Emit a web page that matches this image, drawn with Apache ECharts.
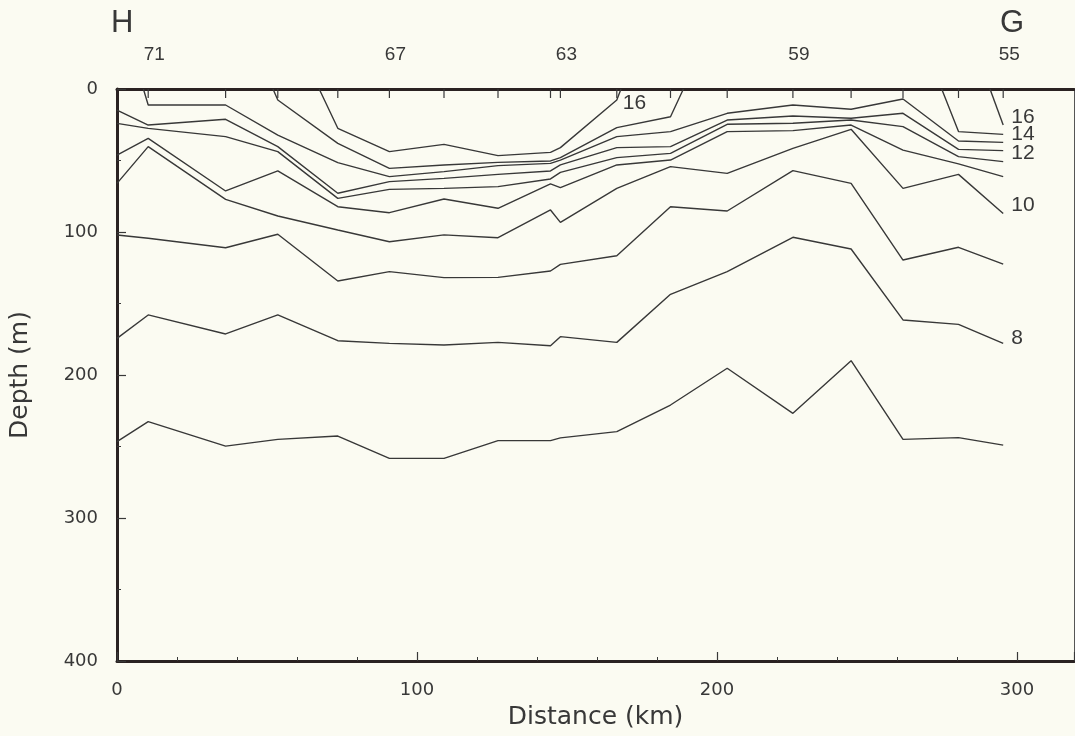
<!DOCTYPE html>
<html><head><meta charset="utf-8">
<script src="https://cdn.jsdelivr.net/npm/echarts@6/dist/echarts.min.js"></script>
<style>html,body{margin:0;padding:0;background:#fbfbf2;} #c{width:1075px;height:736px;}</style>
</head><body><div id="c"></div>
<script>
// distance (km) of the profile vertices: left edge + stations 71..55
const distKm = [0, 10.4, 36.2, 53.6, 73.6, 90.8, 109, 127, 144.5, 147.8, 166.6, 184.5, 203.4, 225.3, 244.7, 262, 280.5, 295.4];
const stationNo = [71, 70, 69, 68, 67, 66, 65, 64, 63, 62, 61, 60, 59, 58, 57, 56, 55];
const labeledStations = [71, 67, 63, 59, 55];
const depthTicks = [0, 100, 200, 300, 400];
const distTicks = [0, 100, 200, 300];

// isotherm depths (m) at distKm, null = absent
const t7  = [246.6, 232.6, 249.7, 245.0, 242.7, 258.3, 258.3, 245.9, 245.9, 244.0, 239.6, 221.0, 195.3, 226.8, 190.0, 245.0, 243.8, 249.0];
const t8  = [174.4, 158.0, 171.3, 158.0, 176.0, 177.9, 179.0, 177.2, 179.5, 173.2, 177.2, 143.6, 127.7, 103.7, 111.9, 161.5, 164.6, 177.9];
const t9  = [102.1, 104.4, 111.0, 101.6, 134.3, 127.7, 131.9, 131.7, 127.3, 122.6, 116.6, 82.3, 85.3, 57.1, 66.0, 119.6, 110.7, 122.4];
const t10 = [66.0, 40.3, 77.2, 88.8, 98.6, 106.8, 102.0, 104.0, 84.6, 93.3, 69.5, 54.3, 59.0, 41.5, 28.2, 69.5, 59.7, 87.0];
const t11 = [46.2, 34.5, 71.3, 57.3, 82.3, 86.5, 76.9, 83.4, 66.4, 69.0, 53.1, 49.7, 29.8, 29.1, 25.2, 42.7, 52.4, 61.3];
const t12 = [24.0, 27.5, 33.3, 43.8, 76.5, 70.2, 69.5, 68.3, 62.9, 58.3, 48.0, 45.0, 24.7, 24.0, 21.7, 26.3, 47.3, 50.8];
const t13 = [14.7, 25.2, 21.2, 40.3, 72.9, 64.8, 62.5, 59.7, 57.3, 53.1, 41.0, 40.3, 21.7, 18.9, 20.5, 17.0, 42.2, 43.1];
const t14 = [null, 11.2, 11.2, 32.2, 51.5, 61.3, 57.8, 53.6, 52.0, 49.7, 33.3, 29.8, 17.0, 11.2, 14.2, 7.0, 36.4, 37.3];
const t15 = [null, null, null, 7.7, 38.0, 55.5, 53.1, 51.3, 50.3, 48.0, 27.0, 19.4, null, null, null, null, 29.8, 31.7];
const t16 = [null, null, null, null, 27.5, 43.8, 38.7, 46.6, 44.3, 41.0, 7.7, null, null, null, null, null, null, 25.2];
// distances where an isotherm meets the surface (0 m)
const surface14 = [8.8];
const surface15 = [52.0, 188.8, 274.9];
const surface16 = [67.4, 168.0, 291.0];

const isotherms = [
  {t: 7, d: t7, s: []}, {t: 8, d: t8, s: []}, {t: 9, d: t9, s: []}, {t: 10, d: t10, s: []},
  {t: 11, d: t11, s: []}, {t: 12, d: t12, s: []}, {t: 13, d: t13, s: []},
  {t: 14, d: t14, s: surface14}, {t: 15, d: t15, s: surface15}, {t: 16, d: t16, s: surface16}
];
const endLabelled = {16: -8, 14: -8, 12: -8, 10: -8, 8: -5};

const INK = '#383838';
const FONT_NUM = '"DejaVu Sans", sans-serif';
const FONT_LBL = '"Liberation Sans", Arial, sans-serif';

function segments(iso) {
  const pts = distKm.map((x, i) => [x, iso.d[i]]).concat(iso.s.map(x => [x, 0]));
  pts.sort((a, b) => a[0] - b[0]);
  const segs = []; let cur = [];
  pts.forEach(p => {
    if (p[1] === null) { if (cur.length) segs.push(cur); cur = []; }
    else cur.push(p);
  });
  if (cur.length) segs.push(cur);
  return segs;
}

const series = [];
let midLabelPoint = null;
isotherms.forEach(iso => {
  const segs = segments(iso);
  segs.forEach((seg, si) => {
    const isLast = si === segs.length - 1;
    if (iso.t === 16 && si === 0) midLabelPoint = seg[seg.length - 2];
    const s = {
      type: 'line', data: seg, showSymbol: false, symbol: 'none', silent: true, animation: false,
      lineStyle: {color: INK, width: 1.4}, z: 3
    };
    if (isLast && endLabelled[iso.t] !== undefined) {
      s.endLabel = {show: true, formatter: String(iso.t), color: INK, fontSize: 21,
        fontFamily: FONT_LBL, distance: 8, offset: [0, endLabelled[iso.t]]};
    }
    series.push(s);
  });
});

// in-plot label of the surfacing 16 isotherm
series.push({
  type: 'scatter', data: [midLabelPoint], symbol: 'circle', symbolSize: 2,
  itemStyle: {color: 'rgba(0,0,0,0)'}, silent: true, animation: false, z: 6,
  label: {show: true, position: 'right', distance: 5, offset: [0, 3], formatter: '16',
    color: INK, fontSize: 21, fontFamily: FONT_LBL, opacity: 1}
});

// station ticks along the top and station numbers
series.push({
  type: 'custom', silent: true, animation: false, clip: false, z: 5,
  data: stationNo.map((n, i) => [distKm[i + 1], n]),
  renderItem: (params, api) => {
    const p = api.coord([api.value(0), 0]);
    const children = [{type: 'line', shape: {x1: p[0], y1: p[1], x2: p[0], y2: p[1] + 9},
      style: {stroke: INK, lineWidth: 1.2}}];
    const n = api.value(1);
    if (labeledStations.indexOf(n) >= 0) {
      children.push({type: 'text', x: p[0] + 6, y: p[1] - 34,
        style: {text: String(n), fill: INK, font: '19px "Liberation Sans", Arial, sans-serif',
          align: 'center', verticalAlign: 'middle'}});
    }
    return {type: 'group', children};
  }
});

const chart = echarts.init(document.getElementById('c'), null, {renderer: 'canvas'});
chart.setOption({
  backgroundColor: '#fbfbf2',
  animation: false,
  grid: {left: 117, right: 1, top: 89, bottom: 75, containLabel: false},
  xAxis: [{
    type: 'value', min: 0, max: 319, interval: 100, position: 'bottom',
    name: 'Distance (km)', nameLocation: 'middle', nameGap: 44,
    nameTextStyle: {fontSize: 25, color: INK, fontFamily: FONT_NUM},
    axisLine: {show: true, onZero: false, lineStyle: {color: '#2a2222', width: 3}},
    axisTick: {show: true, inside: true, length: 9, lineStyle: {color: INK, width: 1.2}},
    minorTick: {show: true, splitNumber: 5, length: 4, lineStyle: {color: INK, width: 1}},
    axisLabel: {margin: 20, fontSize: 18, color: INK, fontFamily: FONT_NUM, showMaxLabel: false,
      formatter: v => distTicks.indexOf(v) >= 0 ? String(v) : ''},
    splitLine: {show: false}, minorSplitLine: {show: false}
  }, {
    type: 'value', min: 0, max: 319, position: 'top',
    axisLine: {show: true, onZero: false, lineStyle: {color: '#2a2222', width: 3}},
    axisTick: {show: false}, axisLabel: {show: false}, splitLine: {show: false}
  }],
  yAxis: [{
    type: 'value', inverse: true, min: 0, max: 400, interval: 100, position: 'left',
    name: 'Depth (m)', nameLocation: 'middle', nameGap: 84, nameRotate: 90,
    nameTextStyle: {fontSize: 25, color: INK, fontFamily: FONT_NUM},
    axisLine: {show: true, onZero: false, lineStyle: {color: '#2a2222', width: 3}},
    axisTick: {show: true, inside: true, length: 9, lineStyle: {color: INK, width: 1.2}},
    minorTick: {show: true, splitNumber: 2, length: 4, lineStyle: {color: INK, width: 1}},
    axisLabel: {margin: 19, fontSize: 18, color: INK, fontFamily: FONT_NUM,
      formatter: v => depthTicks.indexOf(v) >= 0 ? String(v) : ''},
    splitLine: {show: false}, minorSplitLine: {show: false}
  }, {
    type: 'value', inverse: true, min: 0, max: 400, position: 'right',
    axisLine: {show: true, onZero: false, lineStyle: {color: '#555', width: 1}},
    axisTick: {show: false}, axisLabel: {show: false}, splitLine: {show: false}
  }],
  graphic: [
    {type: 'text', x: 111, y: 23, style: {text: 'H', fill: INK, font: '31px ' + FONT_LBL, verticalAlign: 'middle'}},
    {type: 'text', x: 1012, y: 23, style: {text: 'G', fill: INK, font: '31px ' + FONT_LBL, align: 'center', verticalAlign: 'middle'}}
  ],
  series
});
</script>
</body></html>
